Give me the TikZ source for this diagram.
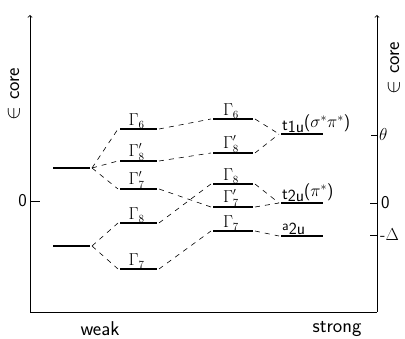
\documentclass[tikz,border=0pt]{standalone}
\usetikzlibrary{calc}
\begin{document}
\begin{tikzpicture}[x=1pt,y=-1pt,font=\fontsize{16}{18}\selectfont,
    level/.style={line width=2.2pt},
    link/.style={line width=0.6pt,dash pattern=on 5pt off 5pt},
    lab/.style={anchor=south,inner sep=0.5pt},
    mo/.style={anchor=south west,inner sep=1pt,font=\fontsize{17}{19}\selectfont\sffamily},
    axislabel/.style={inner sep=1pt,font=\fontsize{20}{22}\selectfont\sffamily}]
    \useasboundingbox (0,0) rectangle (405,339);
    % Setup some coordinates:
    \coordinate (left bottom)  at (30,312);
    \coordinate (left top)     at (30,15);
    \coordinate (right bottom) at (377,312);
    \coordinate (right top)    at (377,15);

    \coordinate (zero left)  at (30,201);
    \coordinate (theta)      at (377,135);
    \coordinate (zero right) at (377,203);
    \coordinate (delta)      at (377,235);

    % The levels, column by column
    \foreach \n/\y in {fu/168,fl/246}
      {\coordinate (\n-L) at (53,\y); \coordinate (\n-R) at (90,\y);}
    \foreach \n/\y in {w6/129,w8p/161,w7p/189,w8/223,w7/269}
      {\coordinate (\n-L) at (120,\y); \coordinate (\n-R) at (157,\y);}
    \foreach \n/\y in {s6/119,s8p/153,s8/184,s7p/207,s7/231}
      {\coordinate (\n-L) at (213,\y); \coordinate (\n-R) at (253,\y);}
    \foreach \n/\y in {t1u/134,t2u/203,a2u/236}
      {\coordinate (\n-L) at (281,\y); \coordinate (\n-R) at (323,\y);}

    % Draw the axes
    \draw [line width=0.8pt,->] (left bottom) -- (left top);
    \draw [line width=0.8pt] (left bottom) -- (right bottom);
    \draw [line width=0.8pt,->] (right bottom) -- (right top);
    % And label them
    \node [axislabel,rotate=90] (eps left) at (14,94) {$\in$ core};
    \node [axislabel,rotate=90] (eps right) at (394,68) {$\in$ core};
    \node [axislabel] (weak) at (100,329) {weak};
    \node [axislabel] (strong) at (337,329) {strong};

    % The ticks
    \draw [line width=0.8pt] (zero left) -- ++(10,0);
    \node [anchor=east,inner sep=3pt,font=\fontsize{18}{20}\selectfont\sffamily]
      (zero left label) at (zero left) {0};
    \draw [line width=0.8pt] (theta) -- ++(-6,0);
    \node [anchor=west,inner sep=2pt,font=\fontsize{19}{21}\selectfont]
      (theta label) at (theta) {$\theta$};
    \draw [line width=0.8pt] (zero right) -- ++(-7,0);
    \node [anchor=west,inner sep=4pt,font=\fontsize{18}{20}\selectfont\sffamily]
      (zero right label) at (zero right) {0};
    \draw [line width=0.8pt] (delta) -- ++(-7,0);
    \node [anchor=west,inner sep=3pt,font=\fontsize{17}{19}\selectfont]
      (delta label) at (delta) {\textsf{-}$\Delta$};

    % Draw the levels
    \foreach \n in {fu,fl,w6,w8p,w7p,w8,w7,s6,s8p,s8,s7p,s7,t1u,t2u,a2u}
      \draw [level] (\n-L) -- (\n-R);

    % Label the levels
    \foreach \n/\t in {w6/{\Gamma_6},w8p/{\Gamma_8'},w7p/{\Gamma_7'},w8/{\Gamma_8},w7/{\Gamma_7},
                       s6/{\Gamma_6},s8p/{\Gamma_8'},s8/{\Gamma_8},s7p/{\Gamma_7'},s7/{\Gamma_7}}
      \node [lab] (\n-label) at ($(\n-L)!0.45!(\n-R)$) {$\t$};
    \node [mo] (t1u-label) at (t1u-L)
      {t\raisebox{-2pt}{1u}\raisebox{3pt}{($\sigma^*\pi^*$)}};
    \node [mo] (t2u-label) at (t2u-L)
      {t\raisebox{-2pt}{2u}\raisebox{3pt}{($\pi^*$)}};
    \node [mo] (a2u-label) at (a2u-L)
      {\raisebox{3pt}{\fontsize{14}{16}\selectfont a}\raisebox{-1pt}{2u}};

    % Finally, the dashed correlations
    \foreach \a/\b in {fu/w6,fu/w8p,fu/w7p,fl/w8,fl/w7,
                       w6/s6,w8p/s8p,w7p/s7p,w8/s8,w7/s7,
                       s6/t1u,s8p/t1u,s8/t2u,s7p/t2u,s7/a2u}
      \draw [link] ($(\a-R)+(2,0)$) -- ($(\b-L)+(-2,0)$);
\end{tikzpicture}
\end{document}
